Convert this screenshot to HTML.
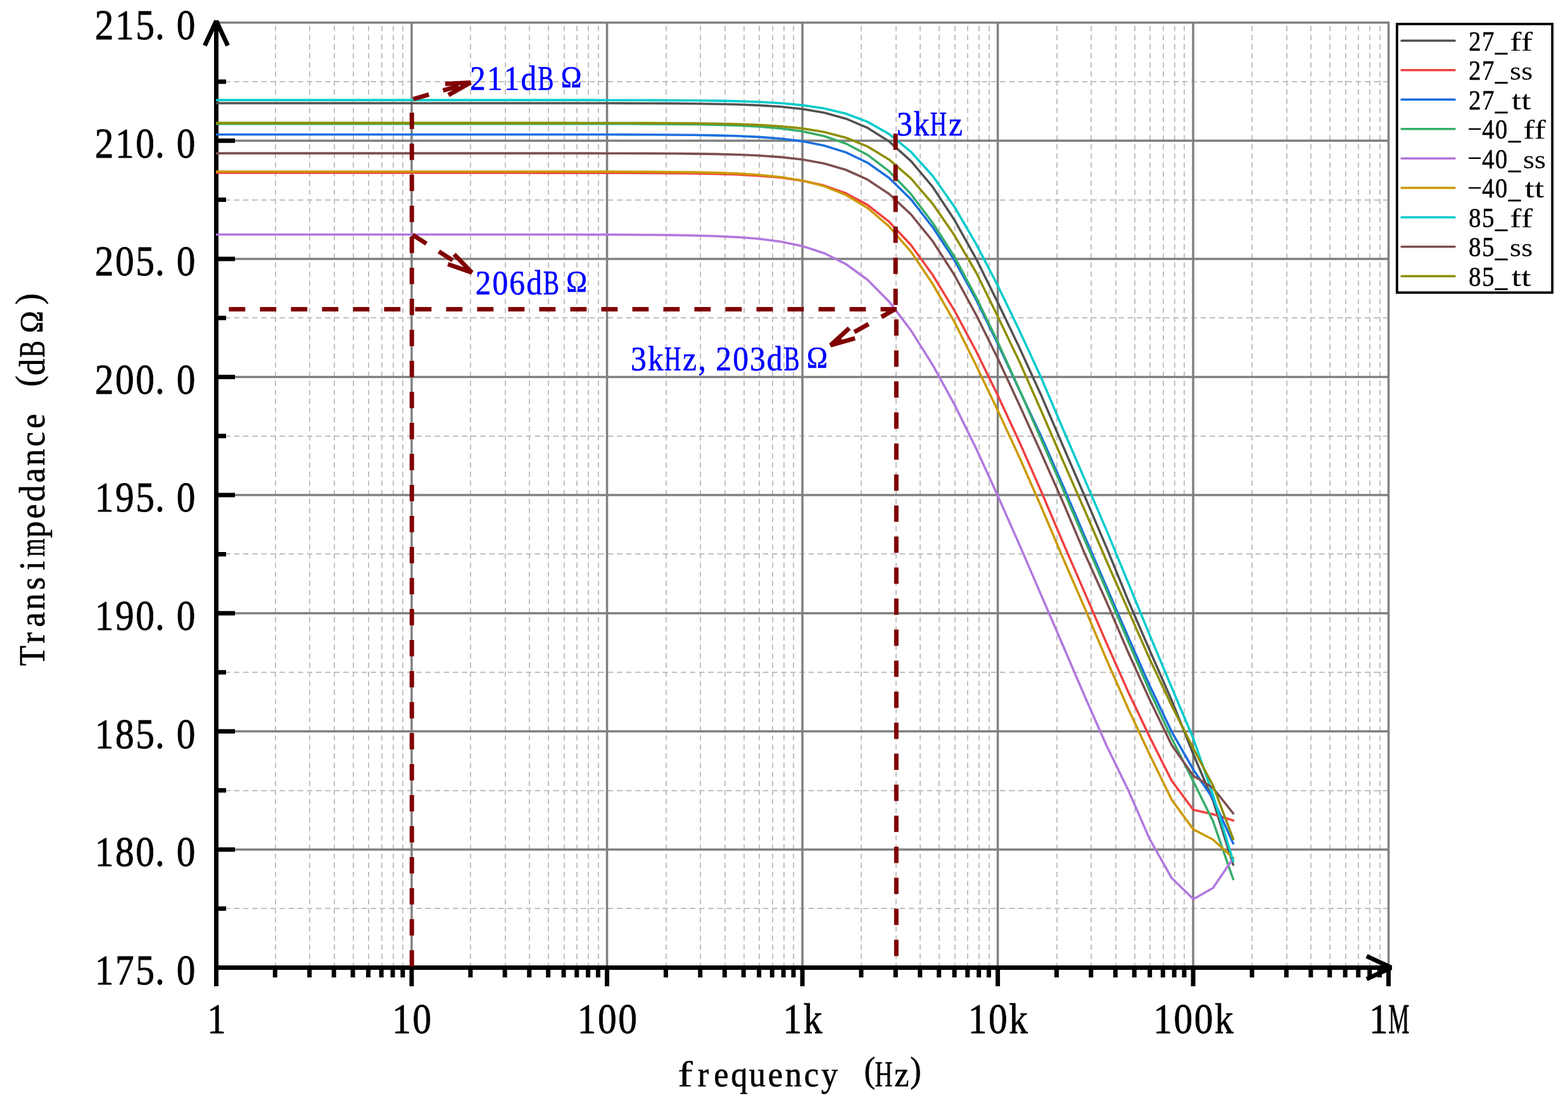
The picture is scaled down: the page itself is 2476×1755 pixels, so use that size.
<!DOCTYPE html>
<html lang="en"><head><meta charset="utf-8"><title>Transimpedance (dBΩ) - frequency (Hz)</title>
<style>html,body{margin:0;padding:0;background:#fff}body{width:2476px;height:1755px;overflow:hidden}svg{display:block}text{font-family:"Liberation Serif","Noto Serif CJK SC",serif;white-space:pre}</style>
</head><body>
<svg width="2476" height="1755" viewBox="0 0 2476 1755" role="img" aria-label="Transimpedance (dBΩ) - frequency (Hz)">
<desc>Transimpedance (dBΩ) frequency (Hz) 175.0 180.0 185.0 190.0 195.0 200.0 205.0 210.0 215.0 1 10 100 1k 10k 100k 1M 27_ff 27_ss 27_tt -40_ff -40_ss -40_tt 85_ff 85_ss 85_tt 211dBΩ 206dBΩ 3kHz 3kHz,203dBΩ</desc>
<rect width="2476" height="1755" fill="#fff"/>
<path d="M435 41 V1525.5 M489 41 V1525.5 M528 41 V1525.5 M558 41 V1525.5 M582 41 V1525.5 M603 41 V1525.5 M621 41 V1525.5 M636 41 V1525.5 M743 41 V1525.5 M798 41 V1525.5 M836 41 V1525.5 M866 41 V1525.5 M891 41 V1525.5 M911 41 V1525.5 M929 41 V1525.5 M945 41 V1525.5 M1052 41 V1525.5 M1106 41 V1525.5 M1145 41 V1525.5 M1175 41 V1525.5 M1199 41 V1525.5 M1220 41 V1525.5 M1238 41 V1525.5 M1253 41 V1525.5 M1360 41 V1525.5 M1415 41 V1525.5 M1453 41 V1525.5 M1483 41 V1525.5 M1508 41 V1525.5 M1528 41 V1525.5 M1546 41 V1525.5 M1562 41 V1525.5 M1669 41 V1525.5 M1723 41 V1525.5 M1762 41 V1525.5 M1792 41 V1525.5 M1816 41 V1525.5 M1837 41 V1525.5 M1855 41 V1525.5 M1870 41 V1525.5 M1977 41 V1525.5 M2032 41 V1525.5 M2070 41 V1525.5 M2100 41 V1525.5 M2125 41 V1525.5 M2145 41 V1525.5 M2163 41 V1525.5 M2179 41 V1525.5" stroke="#c0c0c0" stroke-width="2" stroke-dasharray="8.2 6.167" fill="none"/>
<path d="M355 1435 H2190.62 M355 1249 H2190.62 M355 1062 H2190.62 M355 875 H2190.62 M355 689 H2190.62 M355 502 H2190.62 M355 316 H2190.62 M355 129 H2190.62" stroke="#c0c0c0" stroke-width="2" stroke-dasharray="8.6 5.8" fill="none"/>
<path d="M650.02 34 V1528.5 M958.54 34 V1528.5 M1267.06 34 V1528.5 M1575.58 34 V1528.5 M1884.1 34 V1528.5 M2192.62 34 V1528.5 M341.5 1341.9 H2194.32 M341.5 1155.3 H2194.32 M341.5 968.7 H2194.32 M341.5 782.1 H2194.32 M341.5 595.5 H2194.32 M341.5 408.9 H2194.32 M341.5 222.3 H2194.32 M341.5 35.7 H2194.32" stroke="#808080" stroke-width="3.5" fill="none"/>
<path d="M341.5 32 V1558 M338 1528.5 H2198" stroke="#000" stroke-width="7" fill="none"/>
<path d="M345 1341.9 H371 M345 1155.3 H371 M345 968.7 H371 M345 782.1 H371 M345 595.5 H371 M345 408.9 H371 M345 222.3 H371 M345 1435.2 H357 M345 1248.6 H357 M345 1062 H357 M345 875.4 H357 M345 688.8 H357 M345 502.2 H357 M345 315.6 H357 M345 129 H357 M650.02 1530 V1558 M958.54 1530 V1558 M1267.06 1530 V1558 M1575.58 1530 V1558 M1884.1 1530 V1558 M2192.62 1530 V1558 M434.37 1530 V1544 M488.7 1530 V1544 M527.25 1530 V1544 M557.15 1530 V1544 M581.58 1530 V1544 M602.23 1530 V1544 M620.12 1530 V1544 M635.9 1530 V1544 M742.89 1530 V1544 M797.22 1530 V1544 M835.77 1530 V1544 M865.67 1530 V1544 M890.1 1530 V1544 M910.75 1530 V1544 M928.64 1530 V1544 M944.42 1530 V1544 M1051.41 1530 V1544 M1105.74 1530 V1544 M1144.29 1530 V1544 M1174.19 1530 V1544 M1198.62 1530 V1544 M1219.27 1530 V1544 M1237.16 1530 V1544 M1252.94 1530 V1544 M1359.93 1530 V1544 M1414.26 1530 V1544 M1452.81 1530 V1544 M1482.71 1530 V1544 M1507.14 1530 V1544 M1527.79 1530 V1544 M1545.68 1530 V1544 M1561.46 1530 V1544 M1668.45 1530 V1544 M1722.78 1530 V1544 M1761.33 1530 V1544 M1791.23 1530 V1544 M1815.66 1530 V1544 M1836.31 1530 V1544 M1854.2 1530 V1544 M1869.98 1530 V1544 M1976.97 1530 V1544 M2031.3 1530 V1544 M2069.85 1530 V1544 M2099.75 1530 V1544 M2124.18 1530 V1544 M2144.83 1530 V1544 M2162.72 1530 V1544 M2178.5 1530 V1544" stroke="#000" stroke-width="7" fill="none"/>
<path d="M341.5 33 L323.33 71.97 M341.5 33 L359.67 71.97 M2197 1528.5 L2158.03 1510.33 M2197 1528.5 L2158.03 1546.67" stroke="#000" stroke-width="7" fill="none"/>
<g fill="none" stroke-width="3.6" stroke-linejoin="round" stroke-linecap="square">
<polyline points="342.8,162.96 375.78,162.96 410.06,162.96 444.34,162.96 478.62,162.96 512.9,162.96 547.18,162.96 581.46,162.96 615.74,162.96 650.02,162.96 684.3,162.96 718.58,162.96 752.86,162.97 787.14,162.97 821.42,162.97 855.7,162.98 889.98,163 924.26,163.02 958.54,163.06 992.82,163.12 1027.1,163.23 1061.38,163.4 1095.66,163.7 1129.94,164.18 1164.22,164.99 1198.5,166.34 1232.78,168.56 1267.06,172.19 1301.34,178.08 1335.62,187.45 1369.9,201.96 1404.18,223.6 1438.46,254.3 1472.74,295.2 1507.02,347.25 1541.3,408.53 1575.58,477.86 1609.86,549.41 1644.14,624.56 1678.42,704.3 1712.7,783.5 1746.98,864.11 1781.26,947.96 1815.54,1027.48 1850.3,1106.41 1884.4,1191.5 1915.4,1264.27 1947.2,1365.78" stroke="#515151"/>
<polyline points="342.8,273.06 375.78,273.06 410.06,273.06 444.34,273.06 478.62,273.06 512.9,273.06 547.18,273.06 581.46,273.06 615.74,273.06 650.02,273.06 684.3,273.06 718.58,273.06 752.86,273.06 787.14,273.07 821.42,273.07 855.7,273.08 889.98,273.1 924.26,273.13 958.54,273.18 992.82,273.27 1027.1,273.41 1061.38,273.65 1095.66,274.04 1129.94,274.7 1164.22,275.79 1198.5,277.59 1232.78,280.56 1267.06,285.38 1301.34,293.12 1335.62,305.26 1369.9,323.69 1404.18,350.42 1438.46,386.98 1472.74,434.22 1507.02,490.34 1541.3,554.5 1575.58,624.59 1609.86,698.4 1644.14,776.2 1678.42,856.72 1712.7,935.89 1746.98,1015.26 1781.26,1092.36 1815.54,1164.39 1850.3,1233.49 1884.4,1279.31 1915.4,1286.29 1947.2,1296" stroke="#f14040"/>
<polyline points="342.8,212.45 375.78,212.45 410.06,212.45 444.34,212.45 478.62,212.45 512.9,212.45 547.18,212.45 581.46,212.45 615.74,212.45 650.02,212.45 684.3,212.45 718.58,212.45 752.86,212.45 787.14,212.46 821.42,212.46 855.7,212.47 889.98,212.49 924.26,212.51 958.54,212.56 992.82,212.63 1027.1,212.75 1061.38,212.96 1095.66,213.3 1129.94,213.87 1164.22,214.81 1198.5,216.37 1232.78,218.95 1267.06,223.15 1301.34,229.92 1335.62,240.62 1369.9,257.04 1404.18,281.2 1438.46,314.87 1472.74,358.82 1507.02,410.87 1541.3,473.18 1575.58,542.99 1609.86,616.51 1644.14,689.33 1678.42,766.92 1712.7,847.08 1746.98,926.44 1781.26,1005.67 1815.54,1083.15 1850.3,1156.05 1884.4,1215.76 1915.4,1261.66 1947.2,1332.2" stroke="#1a6fdf"/>
<polyline points="342.8,195.62 375.78,195.62 410.06,195.62 444.34,195.62 478.62,195.62 512.9,195.62 547.18,195.62 581.46,195.62 615.74,195.62 650.02,195.62 684.3,195.62 718.58,195.62 752.86,195.62 787.14,195.63 821.42,195.63 855.7,195.64 889.98,195.66 924.26,195.69 958.54,195.74 992.82,195.82 1027.1,195.96 1061.38,196.19 1095.66,196.57 1129.94,197.2 1164.22,198.25 1198.5,199.99 1232.78,202.85 1267.06,207.5 1301.34,214.98 1335.62,226.74 1369.9,244.64 1404.18,270.69 1438.46,306.56 1472.74,351.97 1507.02,405.25 1541.3,469.23 1575.58,540.2 1609.86,615.72 1644.14,693.92 1678.42,772.65 1712.7,852.79 1746.98,931.69 1781.26,1012.66 1815.54,1092.08 1850.3,1166.5 1884.4,1234.42 1915.4,1297.12 1947.2,1388.55" stroke="#37ad6b"/>
<polyline points="342.8,370.46 375.78,370.46 410.06,370.46 444.34,370.46 478.62,370.46 512.9,370.46 547.18,370.46 581.46,370.46 615.74,370.46 650.02,370.46 684.3,370.46 718.58,370.47 752.86,370.47 787.14,370.48 821.42,370.49 855.7,370.5 889.98,370.53 924.26,370.58 958.54,370.65 992.82,370.78 1027.1,371 1061.38,371.36 1095.66,371.95 1129.94,372.95 1164.22,374.58 1198.5,377.28 1232.78,381.68 1267.06,388.77 1301.34,399.95 1335.62,417.03 1369.9,442.03 1404.18,476.63 1438.46,521.91 1472.74,576.49 1507.02,638.6 1541.3,708.18 1575.58,783.16 1609.86,860.63 1644.14,940.14 1678.42,1019.53 1712.7,1099.53 1746.98,1177.02 1781.26,1247.44 1815.54,1325.73 1850.3,1387.06 1884.4,1420.27 1915.4,1402.73 1947.2,1356.08" stroke="#b177de"/>
<polyline points="342.8,271 375.78,271 410.06,271 444.34,271 478.62,271 512.9,271 547.18,271 581.46,271 615.74,271 650.02,271 684.3,271.01 718.58,271.01 752.86,271.01 787.14,271.01 821.42,271.02 855.7,271.03 889.98,271.06 924.26,271.09 958.54,271.15 992.82,271.25 1027.1,271.42 1061.38,271.69 1095.66,272.15 1129.94,272.91 1164.22,274.17 1198.5,276.26 1232.78,279.68 1267.06,285.22 1301.34,294.08 1335.62,307.84 1369.9,328.48 1404.18,357.97 1438.46,397.56 1472.74,448.5 1507.02,508.29 1541.3,577.07 1575.58,648.46 1609.86,722.72 1644.14,800.48 1678.42,881.25 1712.7,960.1 1746.98,1041.28 1781.26,1118.93 1815.54,1192.17 1850.3,1263.53 1884.4,1310.18 1915.4,1326.23 1947.2,1355.34" stroke="#cc9900"/>
<polyline points="342.8,158.11 375.78,158.11 410.06,158.11 444.34,158.11 478.62,158.11 512.9,158.11 547.18,158.11 581.46,158.11 615.74,158.11 650.02,158.11 684.3,158.11 718.58,158.11 752.86,158.11 787.14,158.12 821.42,158.12 855.7,158.13 889.98,158.14 924.26,158.16 958.54,158.19 992.82,158.25 1027.1,158.34 1061.38,158.49 1095.66,158.75 1129.94,159.17 1164.22,159.87 1198.5,161.04 1232.78,162.97 1267.06,166.13 1301.34,171.28 1335.62,179.52 1369.9,192.39 1404.18,211.82 1438.46,239.81 1472.74,277.81 1507.02,326.48 1541.3,385.44 1575.58,451.2 1609.86,522.41 1644.14,596.72 1678.42,677.56 1712.7,757.04 1746.98,836.86 1781.26,920.04 1815.54,1003.42 1850.3,1086.26 1884.4,1166.72 1915.4,1255.69 1947.2,1359.81" stroke="#00cbcc"/>
<polyline points="342.8,242.08 375.78,242.08 410.06,242.08 444.34,242.08 478.62,242.08 512.9,242.08 547.18,242.08 581.46,242.08 615.74,242.08 650.02,242.08 684.3,242.08 718.58,242.08 752.86,242.08 787.14,242.09 821.42,242.09 855.7,242.1 889.98,242.12 924.26,242.14 958.54,242.18 992.82,242.25 1027.1,242.36 1061.38,242.55 1095.66,242.87 1129.94,243.39 1164.22,244.27 1198.5,245.71 1232.78,248.09 1267.06,251.98 1301.34,258.28 1335.62,268.26 1369.9,283.66 1404.18,306.48 1438.46,338.59 1472.74,380.98 1507.02,434.31 1541.3,497.05 1575.58,566.22 1609.86,639.93 1644.14,715.85 1678.42,793.02 1712.7,874.03 1746.98,950 1781.26,1029.95 1815.54,1105.5 1850.3,1177.13 1884.4,1225.46 1915.4,1244.49 1947.2,1284.8" stroke="#7d4e4e"/>
<polyline points="342.8,194.12 375.78,194.12 410.06,194.12 444.34,194.12 478.62,194.12 512.9,194.12 547.18,194.12 581.46,194.12 615.74,194.12 650.02,194.12 684.3,194.12 718.58,194.13 752.86,194.13 787.14,194.13 821.42,194.14 855.7,194.14 889.98,194.16 924.26,194.18 958.54,194.21 992.82,194.27 1027.1,194.37 1061.38,194.54 1095.66,194.82 1129.94,195.28 1164.22,196.06 1198.5,197.33 1232.78,199.44 1267.06,202.91 1301.34,208.52 1335.62,217.47 1369.9,231.38 1404.18,252.22 1438.46,281.93 1472.74,321.89 1507.02,371.6 1541.3,430.25 1575.58,499.91 1609.86,571.44 1644.14,649.03 1678.42,727.72 1712.7,805.69 1746.98,885.46 1781.26,963.4 1815.54,1041.2 1850.3,1114.99 1884.4,1182.54 1915.4,1240.76 1947.2,1325.11" stroke="#8e8e00"/>
</g>
<g stroke="#800000" stroke-width="7" fill="none" stroke-dasharray="25.8 23.2">
<path d="M650.32 178 V1527"/>
<path d="M1414.16 211 V492 L1415.36 493 V1527"/>
<path d="M361.5 488.5 H1416"/>
<path d="M652.5 156.5 L743 130.5"/>
<path d="M651.6 371 L745 430.4"/>
<path d="M1414.3 488 L1311.6 545.4"/>
</g>
<path d="M708.13 150.09 L743 130.5 L703.05 132.4 M707.21 417.27 L745 430.4 L717.09 401.75 M1341.09 518.38 L1311.6 545.4 L1350.07 534.44" stroke="#800000" stroke-width="7" fill="none" stroke-linejoin="miter" stroke-miterlimit="3"/>
<text transform="scale(0.8648 1)" x="190.22 227.51 264.8 292.03 339.39" y="1554.9" font-size="68.69" fill="#000" text-anchor="middle" stroke="#000" stroke-width="0.82" stroke-linejoin="round">175.0</text>
<text transform="scale(0.8648 1)" x="190.22 227.51 264.8 292.03 339.39" y="1368.3" font-size="68.69" fill="#000" text-anchor="middle" stroke="#000" stroke-width="0.82" stroke-linejoin="round">180.0</text>
<text transform="scale(0.8648 1)" x="190.22 227.51 264.8 292.03 339.39" y="1181.7" font-size="68.69" fill="#000" text-anchor="middle" stroke="#000" stroke-width="0.82" stroke-linejoin="round">185.0</text>
<text transform="scale(0.8648 1)" x="190.22 227.51 264.8 292.03 339.39" y="995.1" font-size="68.69" fill="#000" text-anchor="middle" stroke="#000" stroke-width="0.82" stroke-linejoin="round">190.0</text>
<text transform="scale(0.8648 1)" x="190.22 227.51 264.8 292.03 339.39" y="808.5" font-size="68.69" fill="#000" text-anchor="middle" stroke="#000" stroke-width="0.82" stroke-linejoin="round">195.0</text>
<text transform="scale(0.8648 1)" x="190.22 227.51 264.8 292.03 339.39" y="621.9" font-size="68.69" fill="#000" text-anchor="middle" stroke="#000" stroke-width="0.82" stroke-linejoin="round">200.0</text>
<text transform="scale(0.8648 1)" x="190.22 227.51 264.8 292.03 339.39" y="435.3" font-size="68.69" fill="#000" text-anchor="middle" stroke="#000" stroke-width="0.82" stroke-linejoin="round">205.0</text>
<text transform="scale(0.8648 1)" x="190.22 227.51 264.8 292.03 339.39" y="248.7" font-size="68.69" fill="#000" text-anchor="middle" stroke="#000" stroke-width="0.82" stroke-linejoin="round">210.0</text>
<text transform="scale(0.8648 1)" x="190.22 227.51 264.8 292.03 339.39" y="62.1" font-size="68.69" fill="#000" text-anchor="middle" stroke="#000" stroke-width="0.82" stroke-linejoin="round">215.0</text>
<text transform="scale(0.8648 1)" x="395.24" y="1632.2" font-size="68.69" fill="#000" text-anchor="middle" stroke="#000" stroke-width="0.82" stroke-linejoin="round">1</text>
<text transform="scale(0.8648 1)" x="733.35 770.64" y="1632.2" font-size="68.69" fill="#000" text-anchor="middle" stroke="#000" stroke-width="0.82" stroke-linejoin="round">10</text>
<text transform="scale(0.8648 1)" x="1071.46 1108.76 1146.05" y="1632.2" font-size="68.69" fill="#000" text-anchor="middle" stroke="#000" stroke-width="0.82" stroke-linejoin="round">100</text>
<text transform="scale(0.8648 1)" x="1446.87 1484.16" y="1632.2" font-size="68.69" fill="#000" text-anchor="middle" stroke="#000" stroke-width="0.82" stroke-linejoin="round">1k</text>
<text transform="scale(0.8648 1)" x="1784.98 1822.27 1859.56" y="1632.2" font-size="68.69" fill="#000" text-anchor="middle" stroke="#000" stroke-width="0.82" stroke-linejoin="round">10k</text>
<text transform="scale(0.8648 1)" x="2123.09 2160.38 2197.68 2234.97" y="1632.2" font-size="68.69" fill="#000" text-anchor="middle" stroke="#000" stroke-width="0.82" stroke-linejoin="round">100k</text>
<text transform="scale(0.8648 1)" y="1632.2" font-size="68.69" fill="#000" text-anchor="middle" stroke="#000" stroke-width="0.82" stroke-linejoin="round"><tspan x="2517.14">1</tspan><tspan x="2554.43" textLength="38.04" lengthAdjust="spacingAndGlyphs">M</tspan></text>
<text transform="scale(0.9303 1)" y="1715.7" font-size="56.43" fill="#000" text-anchor="middle" stroke="#000" stroke-width="0.68" stroke-linejoin="round"><tspan x="1162.95" stroke-width="0.27" textLength="25.73" lengthAdjust="spacingAndGlyphs">f</tspan><tspan x="1193.59 1224.22 1254.86 1285.5 1316.13 1346.77 1377.4 1408.04 1438.67">requency </tspan><tspan x="1476.05" dy="-6.32">(</tspan><tspan x="1499.94" dy="6.32" textLength="30.02" lengthAdjust="spacingAndGlyphs">H</tspan><tspan x="1530.58">z</tspan><tspan x="1554.47" dy="-6.32">)</tspan></text>
<text transform="translate(70.2 1035.9) rotate(-90) scale(0.9303 1)" y="0" font-size="56.43" fill="#000" text-anchor="middle" stroke="#000" stroke-width="0.68" stroke-linejoin="round"><tspan x="0 30.64 61.27 91.91 122.54 153.18">Transi</tspan><tspan x="183.81" textLength="30.64" lengthAdjust="spacingAndGlyphs">m</tspan><tspan x="214.45 245.08 275.72 306.35 336.99 367.62 398.26 428.89">pedance </tspan><tspan x="466.27" dy="-6.32">(</tspan><tspan x="490.16" dy="6.32">d</tspan><tspan x="520.8" textLength="28.8" lengthAdjust="spacingAndGlyphs">B</tspan><tspan x="566.75" dy="-4.23" font-size="49.66" textLength="37.37" lengthAdjust="spacingAndGlyphs">Ω</tspan><tspan x="605.96" dy="-2.09">)</tspan></text>
<rect x="2206" y="37.9" width="245.2" height="424.3" fill="#fff" stroke="#000" stroke-width="3.8"/>
<path d="M2213.3 64.25 H2297" stroke="#515151" stroke-width="3.7" stroke-linecap="round" fill="none"/>
<text transform="scale(0.8648 1)" y="80" font-size="44.62" fill="#000" text-anchor="middle" stroke="#000" stroke-width="0.54" stroke-linejoin="round"><tspan x="2692.91 2717.14 2741.36">27_</tspan><tspan x="2777.7" font-size="42.39" stroke="none" textLength="41.67" lengthAdjust="spacingAndGlyphs">ff</tspan></text>
<path d="M2213.3 110.75 H2297" stroke="#f14040" stroke-width="3.7" stroke-linecap="round" fill="none"/>
<text transform="scale(0.8648 1)" y="126.5" font-size="44.62" fill="#000" text-anchor="middle" stroke="#000" stroke-width="0.54" stroke-linejoin="round"><tspan x="2692.91 2717.14 2741.36">27_</tspan><tspan x="2777.7" font-size="42.39" stroke="none" textLength="41.67" lengthAdjust="spacingAndGlyphs">ss</tspan></text>
<path d="M2213.3 157.25 H2297" stroke="#1a6fdf" stroke-width="3.7" stroke-linecap="round" fill="none"/>
<text transform="scale(0.8648 1)" y="173" font-size="44.62" fill="#000" text-anchor="middle" stroke="#000" stroke-width="0.54" stroke-linejoin="round"><tspan x="2692.91 2717.14 2741.36">27_</tspan><tspan x="2777.7" font-size="42.39" stroke="none" textLength="35.85" lengthAdjust="spacingAndGlyphs">tt</tspan></text>
<path d="M2213.3 203.75 H2297" stroke="#37ad6b" stroke-width="3.7" stroke-linecap="round" fill="none"/>
<text transform="scale(0.8648 1)" y="219.5" font-size="44.62" fill="#000" text-anchor="middle" stroke="#000" stroke-width="0.54" stroke-linejoin="round"><tspan x="2692.91" dy="-8.7" font-size="31.24" stroke="none" textLength="28.34" lengthAdjust="spacingAndGlyphs">-</tspan><tspan x="2717.14 2741.36 2765.59" dy="8.7">40_</tspan><tspan x="2801.93" font-size="42.39" stroke="none" textLength="41.67" lengthAdjust="spacingAndGlyphs">ff</tspan></text>
<path d="M2213.3 250.25 H2297" stroke="#b177de" stroke-width="3.7" stroke-linecap="round" fill="none"/>
<text transform="scale(0.8648 1)" y="266" font-size="44.62" fill="#000" text-anchor="middle" stroke="#000" stroke-width="0.54" stroke-linejoin="round"><tspan x="2692.91" dy="-8.7" font-size="31.24" stroke="none" textLength="28.34" lengthAdjust="spacingAndGlyphs">-</tspan><tspan x="2717.14 2741.36 2765.59" dy="8.7">40_</tspan><tspan x="2801.93" font-size="42.39" stroke="none" textLength="41.67" lengthAdjust="spacingAndGlyphs">ss</tspan></text>
<path d="M2213.3 296.75 H2297" stroke="#cc9900" stroke-width="3.7" stroke-linecap="round" fill="none"/>
<text transform="scale(0.8648 1)" y="312.5" font-size="44.62" fill="#000" text-anchor="middle" stroke="#000" stroke-width="0.54" stroke-linejoin="round"><tspan x="2692.91" dy="-8.7" font-size="31.24" stroke="none" textLength="28.34" lengthAdjust="spacingAndGlyphs">-</tspan><tspan x="2717.14 2741.36 2765.59" dy="8.7">40_</tspan><tspan x="2801.93" font-size="42.39" stroke="none" textLength="35.85" lengthAdjust="spacingAndGlyphs">tt</tspan></text>
<path d="M2213.3 343.25 H2297" stroke="#00cbcc" stroke-width="3.7" stroke-linecap="round" fill="none"/>
<text transform="scale(0.8648 1)" y="359" font-size="44.62" fill="#000" text-anchor="middle" stroke="#000" stroke-width="0.54" stroke-linejoin="round"><tspan x="2692.91 2717.14 2741.36">85_</tspan><tspan x="2777.7" font-size="42.39" stroke="none" textLength="41.67" lengthAdjust="spacingAndGlyphs">ff</tspan></text>
<path d="M2213.3 389.75 H2297" stroke="#7d4e4e" stroke-width="3.7" stroke-linecap="round" fill="none"/>
<text transform="scale(0.8648 1)" y="405.5" font-size="44.62" fill="#000" text-anchor="middle" stroke="#000" stroke-width="0.54" stroke-linejoin="round"><tspan x="2692.91 2717.14 2741.36">85_</tspan><tspan x="2777.7" font-size="42.39" stroke="none" textLength="41.67" lengthAdjust="spacingAndGlyphs">ss</tspan></text>
<path d="M2213.3 436.25 H2297" stroke="#8e8e00" stroke-width="3.7" stroke-linecap="round" fill="none"/>
<text transform="scale(0.8648 1)" y="452" font-size="44.62" fill="#000" text-anchor="middle" stroke="#000" stroke-width="0.54" stroke-linejoin="round"><tspan x="2692.91 2717.14 2741.36">85_</tspan><tspan x="2777.7" font-size="42.39" stroke="none" textLength="35.85" lengthAdjust="spacingAndGlyphs">tt</tspan></text>
<text transform="scale(0.8942 1)" y="142" font-size="55.31" fill="#0000ff" text-anchor="middle" stroke="#0000ff" stroke-width="0.66" stroke-linejoin="round"><tspan x="843.68 873.71 903.74 933.77">211d</tspan><tspan x="963.79" textLength="28.23" lengthAdjust="spacingAndGlyphs">B</tspan><tspan x="1008.84" dy="-4.15" font-size="48.67" textLength="36.63" lengthAdjust="spacingAndGlyphs">Ω</tspan></text>
<text transform="scale(0.8942 1)" y="464.8" font-size="55.31" fill="#0000ff" text-anchor="middle" stroke="#0000ff" stroke-width="0.66" stroke-linejoin="round"><tspan x="853.3 883.33 913.36 943.38">206d</tspan><tspan x="973.41" textLength="28.23" lengthAdjust="spacingAndGlyphs">B</tspan><tspan x="1018.45" dy="-4.15" font-size="48.67" textLength="36.63" lengthAdjust="spacingAndGlyphs">Ω</tspan></text>
<text transform="scale(0.8942 1)" y="213.7" font-size="55.31" fill="#0000ff" text-anchor="middle" stroke="#0000ff" stroke-width="0.66" stroke-linejoin="round"><tspan x="1597.34 1627.37">3k</tspan><tspan x="1657.39" textLength="29.43" lengthAdjust="spacingAndGlyphs">H</tspan><tspan x="1687.42">z</tspan></text>
<text transform="scale(0.8942 1)" y="585.1" font-size="55.31" fill="#0000ff" text-anchor="middle" stroke="#0000ff" stroke-width="0.66" stroke-linejoin="round"><tspan x="1127.74 1157.77">3k</tspan><tspan x="1187.8" textLength="29.43" lengthAdjust="spacingAndGlyphs">H</tspan><tspan x="1217.83 1239.75 1277.88 1307.91 1337.94 1367.97">z,203d</tspan><tspan x="1397.99" textLength="28.23" lengthAdjust="spacingAndGlyphs">B</tspan><tspan x="1443.03" dy="-4.15" font-size="48.67" textLength="36.63" lengthAdjust="spacingAndGlyphs">Ω</tspan></text>
</svg>
</body></html>
